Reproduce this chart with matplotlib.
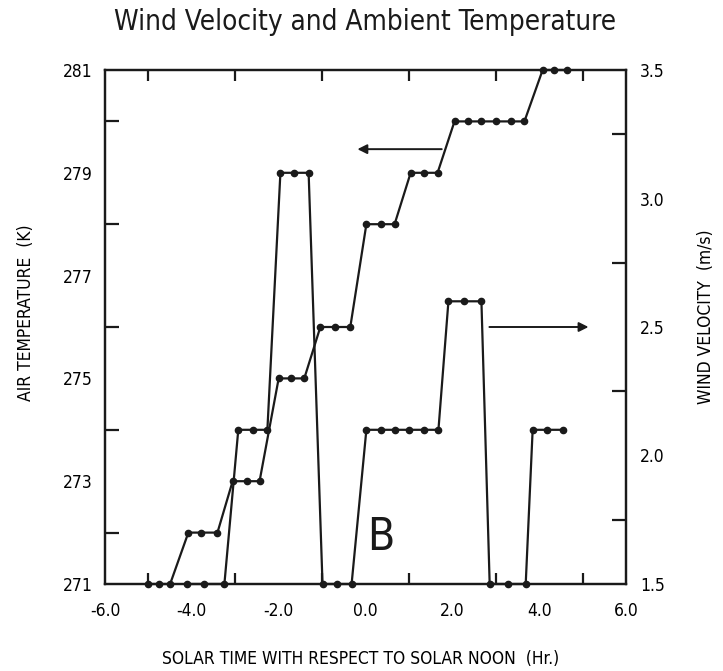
import matplotlib
matplotlib.use("Agg")
import matplotlib.pyplot as plt
from matplotlib.ticker import MultipleLocator, FormatStrFormatter

plt.rcParams['font.family'] = ['DejaVu Sans']
plt.rcParams['font.stretch'] = 'condensed'

# Air temperature series (K) vs solar time (hr)
temp_time = [-5.0, -4.75, -4.5, -4.08, -3.80, -3.41, -3.06, -2.74, -2.44,
             -2.00, -1.71, -1.41, -1.04, -0.71, -0.35, 0.02, 0.35, 0.67,
             1.04, 1.34, 1.66, 2.05, 2.37, 2.67, 3.0, 3.34, 3.66,
             4.08, 4.35, 4.65]
temp_vals = [271, 271, 271, 272, 272, 272, 273, 273, 273,
             275, 275, 275, 276, 276, 276, 278, 278, 278,
             279, 279, 279, 280, 280, 280, 280, 280, 280,
             281, 281, 281]

# Wind velocity series (m/s) vs solar time (hr)
wind_time = [-4.12, -3.71, -3.25, -2.93, -2.60, -2.26, -1.96, -1.64, -1.31,
             -0.99, -0.65, -0.32, 0.02, 0.35, 0.67, 1.01, 1.34, 1.68,
             1.91, 2.28, 2.67, 2.86, 3.29, 3.69, 3.85, 4.17, 4.54]
wind_vals = [1.5, 1.5, 1.5, 2.1, 2.1, 2.1, 3.1, 3.1, 3.1,
             1.5, 1.5, 1.5, 2.1, 2.1, 2.1, 2.1, 2.1, 2.1,
             2.6, 2.6, 2.6, 1.5, 1.5, 1.5, 2.1, 2.1, 2.1]

x_ticks = [-6.0, -4.0, -2.0, 0.0, 2.0, 4.0, 6.0]
temp_ticks = [271, 273, 275, 277, 279, 281]
wind_ticks = [1.5, 2.0, 2.5, 3.0, 3.5]

fig = plt.figure(figsize=(7.23, 6.71), dpi=100)
ax = fig.add_axes([105/723, 1-584/671, (626-105)/723, (584-70)/671])
ax2 = ax.twinx()

lc = '#1a1a1a'
ax.plot(temp_time, temp_vals, '-o', color=lc, lw=1.6, ms=4.5, clip_on=False, zorder=3)
ax2.plot(wind_time, wind_vals, '-o', color=lc, lw=1.6, ms=4.5, clip_on=False, zorder=3)

ax.set_xlim(-6, 6)
ax.set_ylim(271, 281)
ax2.set_ylim(1.5, 3.5)

ax.set_xticks(x_ticks)
ax.xaxis.set_major_formatter(FormatStrFormatter('%.1f'))
ax.xaxis.set_minor_locator(MultipleLocator(1))
ax.set_yticks(temp_ticks)
ax.yaxis.set_minor_locator(MultipleLocator(1))
ax2.set_yticks(wind_ticks)
ax2.yaxis.set_major_formatter(FormatStrFormatter('%.1f'))
ax2.yaxis.set_minor_locator(MultipleLocator(0.25))

for a in (ax, ax2):
    for s in a.spines.values():
        s.set_linewidth(1.6)
        s.set_color(lc)

ax.tick_params(axis='x', which='both', direction='in', top=True, bottom=True,
               width=1.6, labelsize=12.5, pad=13, color=lc)
ax.tick_params(axis='x', which='major', length=0)
ax.tick_params(axis='x', which='minor', length=8)
ax.tick_params(axis='y', which='both', direction='in', left=True, right=False,
               width=1.6, labelsize=12.5, pad=9, color=lc)
ax.tick_params(axis='y', which='major', length=0)
ax.tick_params(axis='y', which='minor', length=10)
ax2.tick_params(axis='y', which='both', direction='in', right=True,
                width=1.6, labelsize=12.5, pad=10, color=lc)
ax2.tick_params(axis='y', which='major', length=0)
ax2.tick_params(axis='y', which='minor', length=10)

ax.set_xlabel('SOLAR TIME WITH RESPECT TO SOLAR NOON  (Hr.)', fontsize=12.5)
ax.set_ylabel('AIR TEMPERATURE  (K)', fontsize=12.5)
ax2.set_ylabel('WIND VELOCITY  (m/s)', fontsize=12.5)
ax.xaxis.set_label_coords(0.49, -0.128)
ax.yaxis.set_label_coords(-0.134, 0.527)
ax2.yaxis.set_label_coords(1.136, 0.52)

fig.text(0.505, 1-22/671, 'Wind Velocity and Ambient Temperature', ha='center', va='center',
         fontsize=20, color=lc)

ax.text(0.35, 271.9, 'B', fontsize=32, ha='center', va='center', color=lc)

ax.annotate('', xy=(-0.25, 279.46), xytext=(1.82, 279.46),
            arrowprops=dict(arrowstyle='-|>', color=lc, lw=1.4, mutation_scale=14))
ax.annotate('', xy=(5.2, 276.0), xytext=(2.79, 276.0),
            arrowprops=dict(arrowstyle='-|>', color=lc, lw=1.4, mutation_scale=14))

fig.savefig('out.png', dpi=100)
